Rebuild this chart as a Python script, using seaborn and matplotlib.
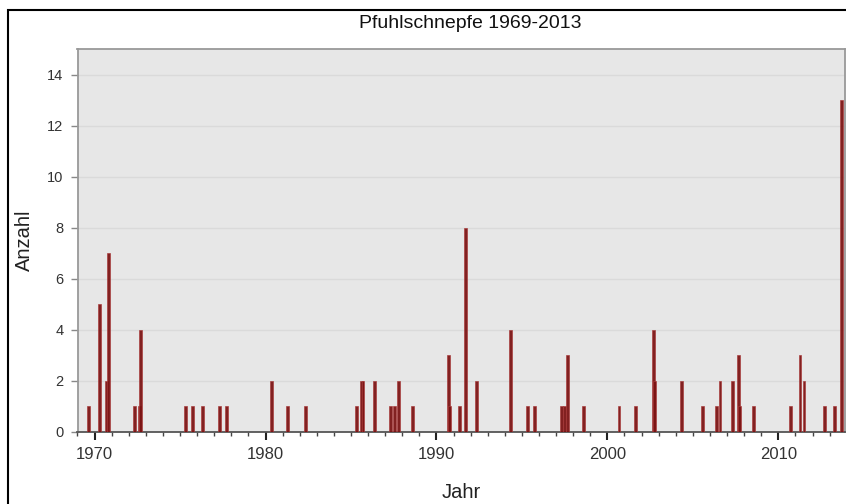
import numpy as np
import pandas as pd
import matplotlib
matplotlib.use("Agg")
import matplotlib.pyplot as plt
from matplotlib.patches import Rectangle
from matplotlib.ticker import MultipleLocator
import seaborn as sns

# Observation dates (fractional years) and counts
dates = [1969.67, 1970.29, 1970.70, 1970.80, 1972.34, 1972.62, 1972.71,
         1975.32, 1975.71, 1976.32, 1977.31, 1977.70, 1980.33, 1981.29,
         1982.32, 1985.31, 1985.62, 1985.70, 1986.36, 1987.33, 1987.57,
         1987.76, 1988.62, 1990.72, 1990.78, 1991.33, 1991.70, 1992.32,
         1994.31, 1995.30, 1995.71, 1997.31, 1997.51, 1997.66, 1998.60,
         2000.68, 2001.66, 2002.69, 2002.77, 2004.36, 2005.54, 2006.40,
         2006.59, 2007.33, 2007.68, 2007.75, 2008.56, 2010.72, 2011.27,
         2011.50, 2012.71, 2013.30, 2013.72]
counts = [1, 5, 2, 7, 1, 1, 4,
          1, 1, 1, 1, 1, 2, 1,
          1, 1, 2, 2, 2, 1, 1,
          2, 1, 3, 1, 1, 8, 2,
          4, 1, 1, 1, 1, 3, 1,
          1, 1, 4, 2, 2, 1, 1,
          2, 2, 3, 1, 1, 1, 3,
          2, 1, 1, 13]
x_ticks = [1970, 1980, 1990, 2000, 2010]
y_ticks = [0, 2, 4, 6, 8, 10, 12, 14]
title = "Pfuhlschnepfe 1969-2013"
x_label = "Jahr"
y_label = "Anzahl"

df = pd.DataFrame({"Jahr": dates, "Anzahl": counts})

sns.set_theme(style="white")
plt.rcParams["font.family"] = ["Liberation Sans", "DejaVu Sans"]

fig = plt.figure(figsize=(8.46, 5.04), dpi=100)
ax = fig.add_axes([77.5 / 846, 1 - 431.7 / 504, (845 - 77.5) / 846, (431.7 - 49) / 504])
ax.set_facecolor("#e7e7e7")

native_w = np.nanmin(np.diff(np.unique(df["Jahr"].values)))
bar_w = 0.17 / native_w

sns.barplot(data=df, x="Jahr", y="Anzahl", native_scale=True, width=bar_w,
            color="#7a1212", saturation=1, edgecolor="#a83a3a", linewidth=0.5,
            alpha=0.93, errorbar=None, ax=ax, zorder=3)

ax.set_xlim(1969.0, 2013.9)
ax.set_ylim(0, 15)
ax.set_xticks(x_ticks)
ax.set_xticklabels([str(t) for t in x_ticks], fontsize=12, color="#333333")
ax.xaxis.set_minor_locator(MultipleLocator(1))
ax.set_yticks(y_ticks)
ax.set_yticklabels([str(t) for t in y_ticks], fontsize=10.5, color="#333333")

ax.yaxis.grid(True, color="#dadada", linewidth=1.0, zorder=0)
ax.xaxis.grid(False)
ax.set_axisbelow(True)

ax.tick_params(axis="x", which="major", direction="out", length=6, width=1.5,
               color="#222222", pad=5, bottom=True)
ax.tick_params(axis="x", which="minor", direction="out", length=3, width=1.0,
               color="#444444", bottom=True)
ax.tick_params(axis="y", which="major", direction="out", length=5, width=1.0,
               color="#888888", pad=5, left=True)

for side in ["left", "top", "right"]:
    ax.spines[side].set_visible(True)
    ax.spines[side].set_color("#999999")
    ax.spines[side].set_linewidth(1.3)
ax.spines["bottom"].set_visible(True)
ax.spines["bottom"].set_color("#555555")
ax.spines["bottom"].set_linewidth(1.3)

ax.set_xlabel("")
ax.set_ylabel("")
fig.text(24 / 846, 1 - 240 / 504, y_label, rotation=90, ha="center", va="center",
         fontsize=14.5, color="#222222")
fig.text(461 / 846, 1 - 493 / 504, x_label, ha="center", va="center",
         fontsize=14.5, color="#222222")
fig.text(470 / 846, 1 - 24 / 504, title, ha="center", va="center",
         fontsize=14, color="#111111")

border = Rectangle((7.5 / 846, -0.5), 2.0, (1 - 9.5 / 504) + 0.5,
                   transform=fig.transFigure, fill=False, edgecolor="black",
                   linewidth=1.5, clip_on=False)
fig.patches.append(border)

fig.savefig("out.png", dpi=100)
